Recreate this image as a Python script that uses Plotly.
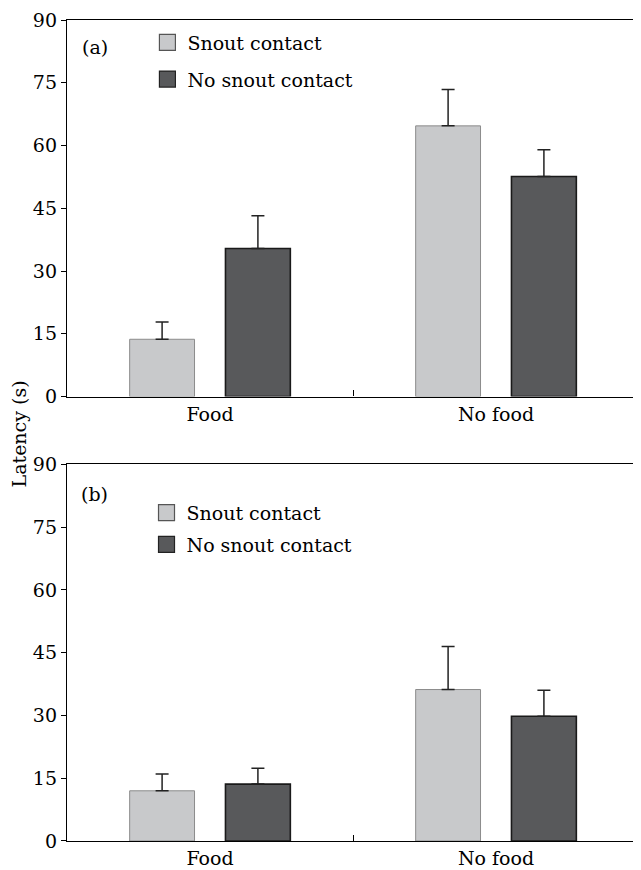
import plotly.graph_objects as go

# ---------------- data ----------------
categories = ["Food", "No food"]
series_names = ["Snout contact", "No snout contact"]

# panel (a)
a_snout = [13.7, 64.7]
a_snout_err = [4.1, 8.7]
a_nosnout = [35.4, 52.6]
a_nosnout_err = [7.8, 6.4]

# panel (b)
b_snout = [12.0, 36.2]
b_snout_err = [4.0, 10.3]
b_nosnout = [13.6, 29.8]
b_nosnout_err = [3.8, 6.2]

y_ticks = [0, 15, 30, 45, 60, 75, 90]
panel_labels = ["(a)", "(b)"]
y_title = "Latency (s)"

# ---------------- style ----------------
FONT = "DejaVu Serif"
FS = 19
LIGHT = "#c8c9cb"
DARK = "#58595b"
LIGHT_LINE = "#8c8c8c"
DARK_LINE = "#1a1a1a"

fig = go.Figure()

panels = [
    ("x", "y", a_snout, a_snout_err, a_nosnout, a_nosnout_err, "legend"),
    ("x2", "y2", b_snout, b_snout_err, b_nosnout, b_nosnout_err, "legend2"),
]

for xr, yr, s, se, n, ne, leg in panels:
    for vals, errs, fill, line, lw in [
        (s, se, LIGHT, LIGHT_LINE, 1.0),
        (n, ne, DARK, DARK_LINE, 1.6),
    ]:
        fig.add_trace(go.Bar(
            x=categories, y=vals, xaxis=xr, yaxis=yr,
            marker=dict(color=fill, line=dict(color=line, width=lw)),
            error_y=dict(type="data", symmetric=False, array=errs,
                         arrayminus=[0] * len(errs), color="#222222",
                         thickness=1.5, width=6.5),
            showlegend=False, hoverinfo="skip",
        ))
    # legend entries
    for i, (name, fill, line) in enumerate([
        (series_names[0], LIGHT, "#555555"),
        (series_names[1], DARK, "#222222"),
    ]):
        fig.add_trace(go.Scatter(
            x=[None], y=[None], xaxis=xr, yaxis=yr, mode="markers", name=name,
            marker=dict(symbol="square", size=16, color=fill,
                        line=dict(color=line, width=1.2)),
            legend=leg, legendgroup=f"{leg}{i}", showlegend=True,
        ))

def xaxis_style():
    return dict(range=[-0.5, 1.5], showline=True, mirror=True, linecolor="black",
                linewidth=1.3, ticks="inside", tickson="boundaries", ticklen=6,
                tickwidth=1.2, tickcolor="black", showgrid=False, zeroline=False,
                tickfont=dict(family=FONT, size=FS, color="black"))

def yaxis_style():
    return dict(range=[0, 90], tickvals=y_ticks, showline=True, mirror=True,
                linecolor="black", linewidth=1.3, ticks="outside", ticklen=5,
                tickwidth=1.2, tickcolor="black", showgrid=False, zeroline=False,
                tickfont=dict(family=FONT, size=FS, color="black"))

top_dom = [0.5413, 1.0]
bot_dom = [0.0, 0.4587]

fig.update_layout(
    width=633, height=862,
    margin=dict(l=59, r=1, t=9, b=29),
    paper_bgcolor="white", plot_bgcolor="white",
    barmode="group", bargap=0.33, bargroupgap=0.323,
    font=dict(family=FONT, size=FS, color="black"),
    xaxis=dict(domain=[0, 1], anchor="y", **xaxis_style()),
    yaxis=dict(domain=top_dom, anchor="x", **yaxis_style()),
    xaxis2=dict(domain=[0, 1], anchor="y2", **xaxis_style()),
    yaxis2=dict(domain=bot_dom, anchor="x2", **yaxis_style()),
    legend=dict(x=0.1406, y=0.9957, xanchor="left", yanchor="top",
                traceorder="grouped", tracegroupgap=9,
                bgcolor="rgba(0,0,0,0)", font=dict(family=FONT, size=FS)),
    legend2=dict(x=0.139, y=0.4229, xanchor="left", yanchor="top",
                 traceorder="grouped", tracegroupgap=4,
                 bgcolor="rgba(0,0,0,0)", font=dict(family=FONT, size=FS)),
    annotations=[
        dict(text=panel_labels[0], xref="paper", yref="paper", x=0.0225, y=0.9672,
             xanchor="left", yanchor="middle", showarrow=False,
             font=dict(family=FONT, size=FS)),
        dict(text=panel_labels[1], xref="paper", yref="paper", x=0.021, y=0.4223,
             xanchor="left", yanchor="middle", showarrow=False,
             font=dict(family=FONT, size=FS)),
        dict(text=y_title, xref="paper", yref="paper", x=-0.0845, y=0.496,
             xanchor="center", yanchor="middle", textangle=-90, showarrow=False,
             font=dict(family=FONT, size=FS)),
    ],
)

fig.write_html("out.html")
